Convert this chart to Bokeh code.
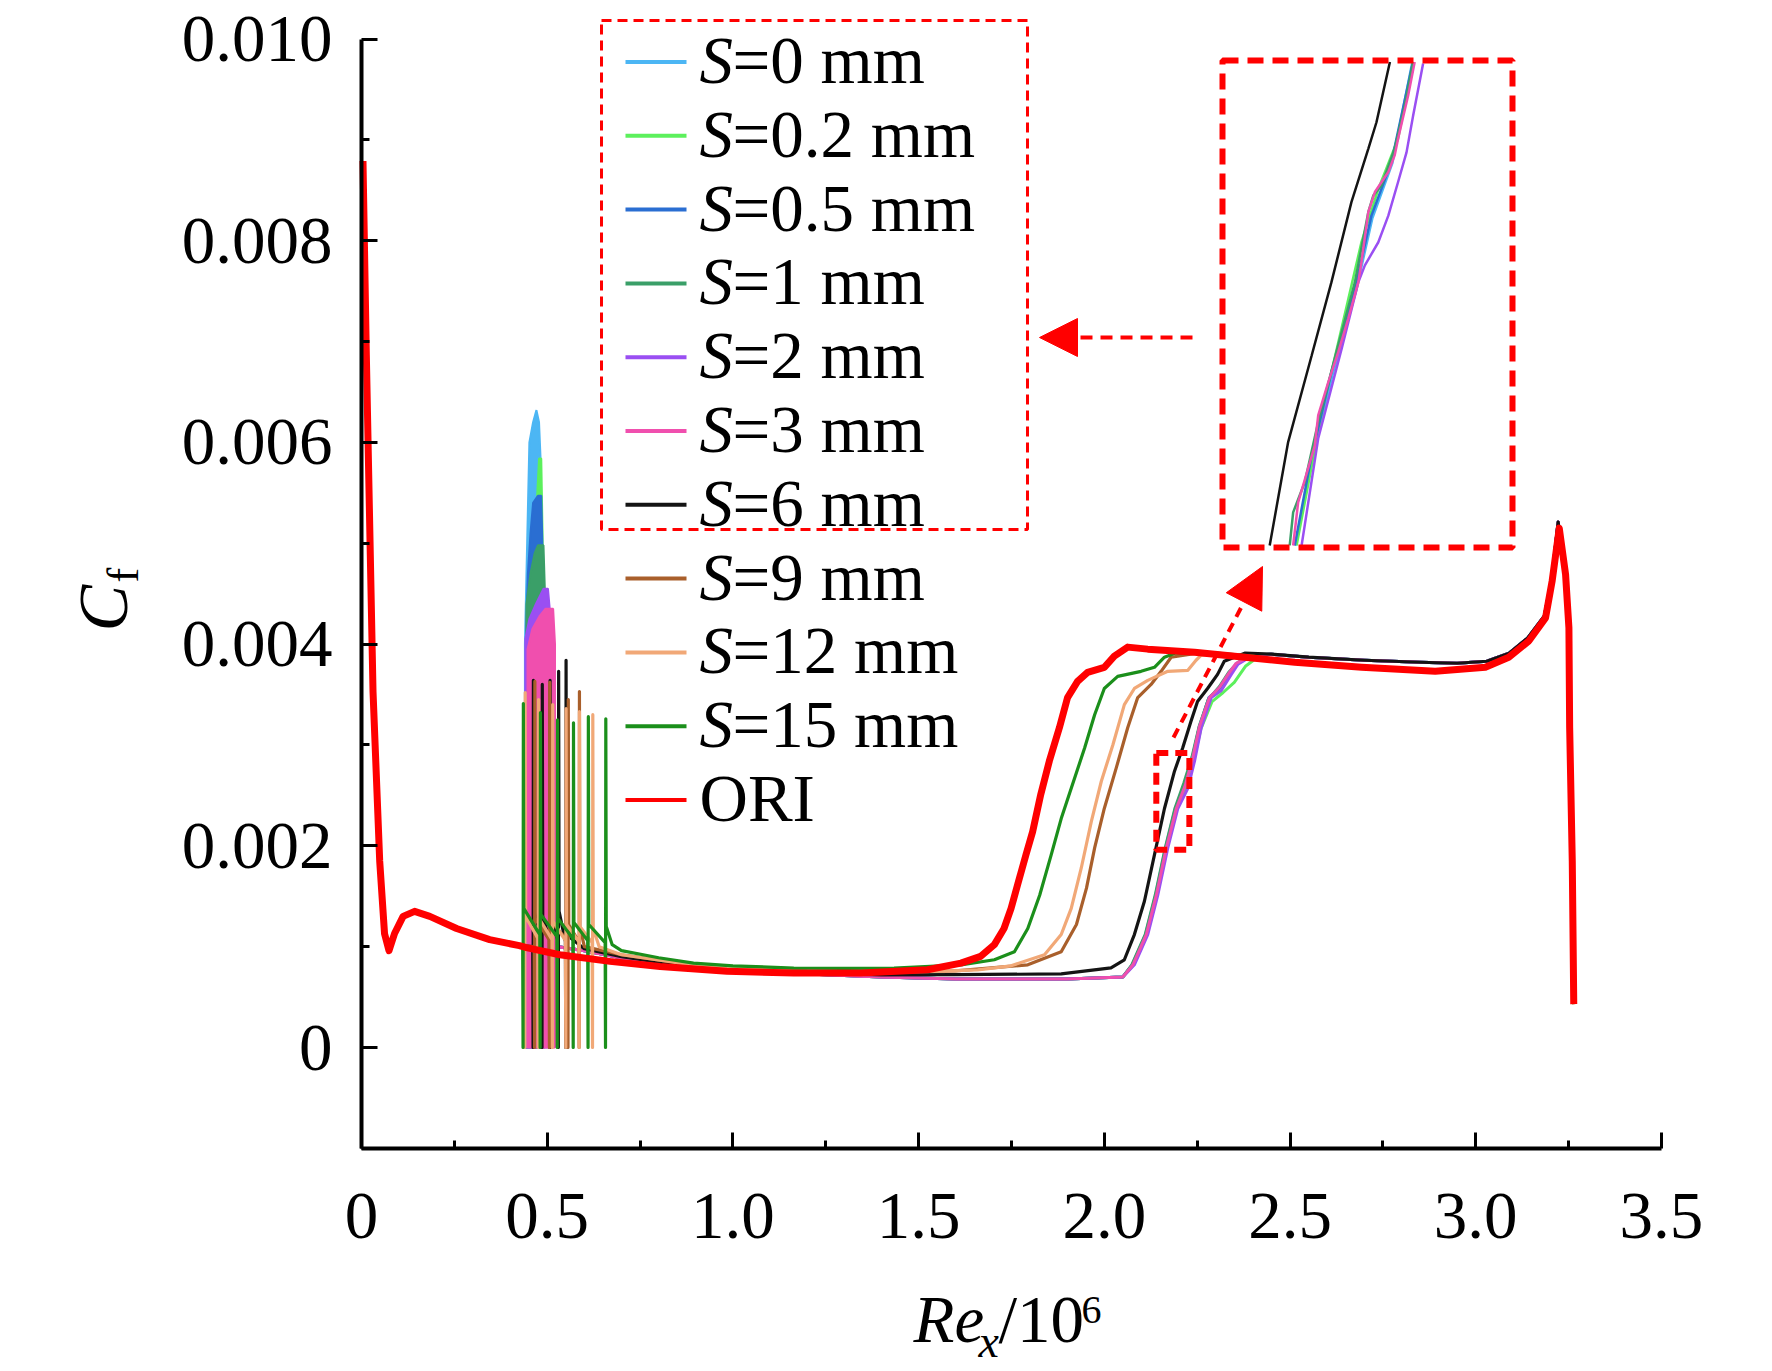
import math
from bokeh.plotting import figure
from bokeh.models import (Range1d, FixedTicker, CustomJSTickFormatter, Label,
                          Arrow, NormalHead)
from bokeh.embed import file_html
from bokeh.resources import INLINE

# ---------------- data ----------------
# upstream part shared by every case (leading-edge peak, dip, laminar decay)
up_x  = [0.004, 0.013, 0.022, 0.031, 0.049, 0.062, 0.074, 0.089, 0.112, 0.143, 0.184, 0.256, 0.345, 0.425]
up_cf = [0.00879, 0.00687, 0.00520, 0.00353, 0.00185, 0.00113, 0.00096, 0.00113, 0.00130, 0.00135, 0.00130, 0.00118, 0.00107, 0.00101]

# ORI (smooth plate)
ori_x = [0.444, 0.534, 0.669, 0.804, 0.984, 1.164, 1.344, 1.524, 1.614, 1.667, 1.704, 1.730, 1.749, 1.767,
         1.789, 1.807, 1.829, 1.852, 1.879, 1.901, 1.928, 1.955, 2.000, 2.027, 2.063, 2.117, 2.243, 2.378,
         2.513, 2.693, 2.891, 3.026, 3.089, 3.143, 3.188, 3.206, 3.225, 3.242, 3.251, 3.253, 3.260, 3.264]
ori_cf = [0.00099, 0.00092, 0.000854, 0.000804, 0.000755, 0.000738, 0.000738, 0.000771, 0.000837, 0.000904,
          0.00102, 0.00118, 0.00138, 0.00162, 0.00191, 0.00214, 0.00251, 0.00284, 0.00317, 0.00347, 0.00363,
          0.00372, 0.00377, 0.00388, 0.00397, 0.00395, 0.00392, 0.00387, 0.00382, 0.00377, 0.00373, 0.00377,
          0.00387, 0.00403, 0.00426, 0.00463, 0.00515, 0.00469, 0.00416, 0.00317, 0.00185, 0.00043]

# turbulent tail of the S <= 6 mm cases (just above ORI) and of S = 9..15 mm (on ORI)
tail_x    = [2.45, 2.55, 2.70, 2.85, 2.95, 3.03, 3.09, 3.14, 3.185, 3.205, 3.222, 3.24, 3.25, 3.253, 3.26, 3.264]
tail_cf   = [0.00390, 0.00387, 0.00384, 0.00382, 0.00381, 0.00383, 0.00391, 0.00406, 0.00428, 0.00466, 0.00521,
             0.00472, 0.00418, 0.00318, 0.00186, 0.00044]
tail_b_cf = [0.00385, 0.00381, 0.00377, 0.00374, 0.00374, 0.00377, 0.00387, 0.00402, 0.00425, 0.00461, 0.00512,
             0.00469, 0.00416, 0.00317, 0.00185, 0.00043]

# S = 15 mm
s15_spk_x   = [0.435, 0.481, 0.527, 0.570, 0.610, 0.657]
s15_spk_top = [0.00341, 0.00332, 0.00325, 0.00322, 0.00328, 0.00326]
s15_spk_hmp = [0.00138, 0.00132, 0.00128, 0.00124, 0.00122, 0.00120]
s15_spk_pre = [0.00102, 0.00112, 0.00110, 0.00108, 0.00106, 0.00104]
s15_x  = [0.675, 0.70, 0.80, 0.894, 1.0, 1.164, 1.30, 1.434, 1.614, 1.704, 1.758, 1.794, 1.826, 1.857, 1.884,
          1.911, 1.947, 1.974, 2.000, 2.036, 2.099, 2.135, 2.162, 2.19, 2.30, 2.40]
s15_cf = [0.00102, 0.00096, 0.00089, 0.000837, 0.00081, 0.000788, 0.000785, 0.000788, 0.00082, 0.00087, 0.00095,
          0.00118, 0.00151, 0.00191, 0.00227, 0.00257, 0.00297, 0.00330, 0.00356, 0.00368, 0.00373, 0.00377,
          0.00387, 0.00391, 0.00391, 0.00388]

# S = 12 mm
s12_spk_x   = [0.440, 0.476, 0.514, 0.550, 0.586, 0.622]
s12_spk_top = [0.00352, 0.00345, 0.00340, 0.00336, 0.00333, 0.00330]
s12_spk_hmp = [0.00130, 0.00128, 0.00125, 0.00122, 0.00120, 0.00118]
s12_spk_pre = [0.00101, 0.00108, 0.00107, 0.00106, 0.00105, 0.00104]
s12_x  = [0.64, 0.70, 0.85, 1.0, 1.2, 1.4, 1.55, 1.659, 1.749, 1.839, 1.884, 1.911, 1.938, 1.965, 1.992, 2.023,
          2.054, 2.081, 2.117, 2.171, 2.225, 2.247, 2.261, 2.32, 2.40]
s12_cf = [0.00100, 0.00092, 0.00084, 0.00079, 0.000755, 0.00075, 0.000755, 0.00077, 0.00081, 0.00092, 0.00112,
          0.00138, 0.00178, 0.00224, 0.00264, 0.00300, 0.00340, 0.00356, 0.00364, 0.00373, 0.00374, 0.00384,
          0.00389, 0.00390, 0.00387]

# S = 9 mm
s9_spk_x   = [0.466, 0.506, 0.556, 0.586]
s9_spk_top = [0.00363, 0.00362, 0.00345, 0.00353]
s9_spk_hmp = [0.00128, 0.00126, 0.00122, 0.00120]
s9_spk_pre = [0.00100, 0.00107, 0.00106, 0.00105]
s9_x  = [0.60, 0.70, 0.85, 1.0, 1.2, 1.4, 1.6, 1.794, 1.884, 1.925, 1.952, 1.974, 2.000, 2.032, 2.063, 2.090,
         2.126, 2.153, 2.180, 2.25, 2.40]
s9_cf = [0.00100, 0.00092, 0.00084, 0.00079, 0.000755, 0.00075, 0.00076, 0.00082, 0.00095, 0.00122, 0.00158,
         0.00198, 0.00237, 0.00277, 0.00317, 0.00347, 0.00360, 0.00373, 0.00387, 0.00391, 0.00387]

# S = 6 mm
s6_spk_x   = [0.462, 0.486, 0.507, 0.530, 0.550]
s6_spk_top = [0.00364, 0.00360, 0.00364, 0.00373, 0.00384]
s6_spk_hmp = [0.00136, 0.00130, 0.00128, 0.00135, 0.00125]
s6_spk_pre = [0.00100, 0.00108, 0.00107, 0.00106, 0.00105]
s6_x  = [0.565, 0.60, 0.70, 0.85, 1.0, 1.2, 1.4, 1.6, 1.884, 2.018, 2.054, 2.081, 2.108, 2.135, 2.162, 2.189,
         2.211, 2.233, 2.251, 2.278, 2.305, 2.323, 2.378]
s6_cf = [0.00108, 0.00098, 0.00090, 0.00082, 0.00077, 0.00074, 0.00072, 0.000722, 0.00073, 0.00079, 0.00087,
         0.00112, 0.00145, 0.00191, 0.00237, 0.00274, 0.00297, 0.00323, 0.00343, 0.00356, 0.00370, 0.00383, 0.00391]

# laminar part after the roughness shared by S <= 3 mm
lam_x  = [0.53, 0.60, 0.70, 0.85, 1.0, 1.2, 1.4, 1.6, 1.9, 2.05]
lam_cf = [0.00100, 0.00096, 0.00089, 0.00082, 0.00077, 0.00073, 0.00070, 0.00068, 0.00068, 0.00070]

# transition parts, S <= 3 mm
s0_x   = [2.075, 2.111, 2.138, 2.165, 2.191, 2.215, 2.236, 2.256, 2.282, 2.310, 2.337, 2.360, 2.400]
s0_cf  = [0.00082, 0.00112, 0.00151, 0.00198, 0.00237, 0.00259, 0.00286, 0.00318, 0.00347, 0.00356, 0.00371, 0.00381, 0.00389]
s02_x  = [2.079, 2.115, 2.142, 2.169, 2.196, 2.222, 2.241, 2.260, 2.290, 2.320, 2.350, 2.380, 2.420]
s02_cf = [0.00082, 0.00112, 0.00151, 0.00198, 0.00237, 0.00258, 0.00285, 0.00316, 0.00343, 0.00352, 0.00362, 0.00378, 0.00389]
s05_x  = [2.076, 2.112, 2.139, 2.166, 2.192, 2.216, 2.237, 2.256, 2.282, 2.310, 2.338, 2.360, 2.400]
s05_cf = [0.00082, 0.00112, 0.00151, 0.00198, 0.00237, 0.00259, 0.00286, 0.00318, 0.00347, 0.00356, 0.00371, 0.00381, 0.00389]
s1_x   = [2.074, 2.110, 2.137, 2.164, 2.190, 2.214, 2.236, 2.255, 2.280, 2.310, 2.335, 2.360, 2.400]
s1_cf  = [0.00082, 0.00112, 0.00151, 0.00198, 0.00237, 0.00262, 0.00288, 0.00318, 0.00345, 0.00358, 0.00372, 0.00382, 0.00389]
s2_x   = [2.081, 2.117, 2.144, 2.171, 2.198, 2.225, 2.243, 2.261, 2.288, 2.315, 2.342, 2.360, 2.400]
s2_cf  = [0.00082, 0.00112, 0.00151, 0.00198, 0.00237, 0.00257, 0.00284, 0.00317, 0.00347, 0.00354, 0.00370, 0.00380, 0.00389]
s3_x   = [2.077, 2.113, 2.140, 2.167, 2.194, 2.218, 2.238, 2.256, 2.283, 2.310, 2.335, 2.355, 2.400]
s3_cf  = [0.00082, 0.00112, 0.00151, 0.00198, 0.00237, 0.00260, 0.00287, 0.00318, 0.00347, 0.00357, 0.00371, 0.00381, 0.00389]

# dense oscillation bands over the roughness elements (envelopes), S <= 3 mm
b0_x   = [0.440, 0.440, 0.446, 0.452, 0.462, 0.471, 0.478, 0.482, 0.486, 0.489, 0.489]
b0_cf  = [0, 0.00400, 0.00500, 0.00600, 0.00620, 0.00632, 0.00620, 0.00585, 0.00500, 0.00440, 0]
b02_x  = [0.472, 0.472, 0.478, 0.484, 0.487, 0.490, 0.490]
b02_cf = [0, 0.00540, 0.00584, 0.00584, 0.00520, 0.00450, 0]
b05_x  = [0.444, 0.444, 0.448, 0.455, 0.462, 0.475, 0.484, 0.487, 0.487]
b05_cf = [0, 0.00420, 0.00470, 0.00510, 0.00540, 0.00547, 0.00547, 0.00500, 0]
b1_x   = [0.444, 0.444, 0.455, 0.466, 0.475, 0.490, 0.494, 0.494]
b1_cf  = [0, 0.00440, 0.00470, 0.00490, 0.00498, 0.00498, 0.00450, 0]
b2_x   = [0.441, 0.441, 0.452, 0.470, 0.490, 0.502, 0.508, 0.508]
b2_cf  = [0, 0.00405, 0.00425, 0.00440, 0.00455, 0.00455, 0.00430, 0]
b3_x   = [0.447, 0.447, 0.460, 0.480, 0.495, 0.516, 0.521, 0.521]
b3_cf  = [0, 0.00395, 0.00415, 0.00428, 0.00435, 0.00435, 0.00400, 0]

# magnified inset: Re_x in [2.13, 2.24], Cf in [0.00197, 0.00294]
inset_box = [2.13, 2.24, 0.00197, 0.00294]
i0_x  = [2.1577, 2.1642, 2.1718, 2.1806, 2.1868, 2.1944, 2.2020]
i0_cf = [0.001974, 0.002150, 0.002315, 0.002480, 0.002625, 0.002735, 0.002937]
i02_x  = [2.1581, 2.1675, 2.1827, 2.1891, 2.1966, 2.2023]
i02_cf = [0.001974, 0.002233, 0.002578, 0.002684, 0.002784, 0.002937]
i05_x  = [2.1574, 2.1638, 2.1713, 2.1802, 2.1865, 2.1941, 2.2017, 2.2023]
i05_cf = [0.001974, 0.002153, 0.002319, 0.002485, 0.002631, 0.002738, 0.002924, 0.002937]
i1_x  = [2.1555, 2.1568, 2.1612, 2.1663, 2.1739, 2.1802, 2.1853, 2.1872, 2.1903, 2.1953, 2.1991, 2.2023]
i1_cf = [0.001974, 0.002040, 0.002100, 0.002220, 0.002373, 0.002498, 0.002638, 0.002671, 0.002691, 0.002764, 0.002850, 0.002937]
i2_x  = [2.1600, 2.1663, 2.1752, 2.1815, 2.1840, 2.1891, 2.1929, 2.1966, 2.1998, 2.2023, 2.2061]
i2_cf = [0.001974, 0.002187, 0.002366, 0.002498, 0.002532, 0.002578, 0.002631, 0.002698, 0.002757, 0.002830, 0.002934]
i3_x  = [2.1568, 2.1587, 2.1650, 2.1663, 2.1701, 2.1739, 2.1777, 2.1815, 2.1827, 2.1853, 2.1878, 2.1929, 2.1953, 2.1966, 2.2004, 2.2029]
i3_cf = [0.001974, 0.002060, 0.002173, 0.002233, 0.002299, 0.002359, 0.002426, 0.002498, 0.002538, 0.002638, 0.002678, 0.002718, 0.002751, 0.002784, 0.002870, 0.002937]
i6_x  = [2.1479, 2.1549, 2.1638, 2.1713, 2.1789, 2.1853, 2.1884, 2.1935]
i6_cf = [0.001974, 0.002180, 0.002352, 0.002498, 0.002658, 0.002764, 0.002817, 0.002937]

small_box = [2.14, 2.229, 0.00196, 0.00292]

legend_labels = ["=0 mm", "=0.2 mm", "=0.5 mm", "=1 mm", "=2 mm", "=3 mm", "=6 mm", "=9 mm", "=12 mm", "=15 mm", "ORI"]
x_ticks = [0, 0.5, 1.0, 1.5, 2.0, 2.5, 3.0, 3.5]
x_minor = [0.25, 0.75, 1.25, 1.75, 2.25, 2.75, 3.25]
y_ticks = [0, 0.002, 0.004, 0.006, 0.008, 0.010]
y_minor = [-0.001, 0.001, 0.003, 0.005, 0.007, 0.009]

# ---------------- styling / layout ----------------
COL = ["#4cb6f4", "#5cf05c", "#2a6ed2", "#3a9f68", "#9a4ff2", "#f04fae", "#141414",
       "#a95f2b", "#f1a877", "#1b8f1b", "#ff0000"]
FONT = "Liberation Serif"
FS = "67px"

W, H = 1770, 1368              # canvas = frame (axes placed with fixed_location)
PX0, PPX = 361.0, 371.4        # px of Re=0, px per unit
PY0, PPY = 1047.0, 100850.0    # px of Cf=0, px per unit


def dx(X):
    return (X - PX0) / PPX


def dy(Y):
    return (PY0 - Y) / PPY


p = figure(frame_width=W, frame_height=H,
           x_range=Range1d(dx(0), dx(W)), y_range=Range1d(dy(H), dy(0)),
           min_border_left=0, min_border_right=0, min_border_top=0, min_border_bottom=0,
           output_backend="svg", toolbar_location=None,
           background_fill_color="white", border_fill_color="white")
p.outline_line_color = None
p.xgrid.grid_line_color = None
p.ygrid.grid_line_color = None

# inset ranges (mapped so that the inset box lands at its place)
IBX0, IBX1, IBY0, IBY1 = 1222.0, 1512.0, 60.0, 547.0
sx = (inset_box[1] - inset_box[0]) / (IBX1 - IBX0)
sy = (inset_box[3] - inset_box[2]) / (IBY1 - IBY0)
ix0 = inset_box[0] - IBX0 * sx
iy0 = inset_box[2] - (H - IBY1) * sy
p.extra_x_ranges = {"ix": Range1d(ix0, ix0 + W * sx)}
p.extra_y_ranges = {"iy": Range1d(iy0, iy0 + H * sy)}

for ax in (p.xaxis[0], p.yaxis[0]):
    ax.axis_line_width = 4
    ax.axis_line_color = "black"
    ax.major_tick_in = 16
    ax.major_tick_out = 0
    ax.minor_tick_in = 8
    ax.minor_tick_out = 0
    ax.major_tick_line_width = 3
    ax.minor_tick_line_width = 3
    ax.major_tick_line_color = "black"
    ax.minor_tick_line_color = "black"
    ax.major_label_text_font = FONT
    ax.major_label_text_font_size = FS
    ax.major_label_text_color = "black"

p.xaxis.fixed_location = -0.001
p.yaxis.fixed_location = 0
p.xaxis.bounds = (0, 3.5)
p.yaxis.bounds = (-0.001, 0.010)
p.xaxis.ticker = FixedTicker(ticks=x_ticks, minor_ticks=x_minor)
p.yaxis.ticker = FixedTicker(ticks=y_ticks, minor_ticks=y_minor)
p.xaxis.formatter = CustomJSTickFormatter(code="return Math.abs(tick) < 1e-9 ? '0' : tick.toFixed(1);")
p.yaxis.formatter = CustomJSTickFormatter(code="return Math.abs(tick) < 1e-12 ? '0' : tick.toFixed(3);")
p.xaxis.major_label_standoff = 46
p.yaxis.major_label_standoff = 29


def spiky(base_x, base_cf, kx, ktop, khmp, kpre, post_x, post_cf, tx, tc):
    xs, ys = list(base_x), list(base_cf)
    for x, t, h, b in zip(kx, ktop, khmp, kpre):
        xs += [x - 0.001, x, x + 0.0008, x + 0.002]
        ys += [b, 0.0, t, h]
    xs += list(post_x) + list(tx)
    ys += list(post_cf) + list(tc)
    return xs, ys


def txt(X, Y, s, size=FS, style="normal", angle=0.0):
    # (X, Y): pixel of the bottom of the text box
    p.add_layout(Label(x=dx(X), y=dy(Y), text=s, text_font=FONT, text_font_style=style,
                       text_font_size=size, text_color="black", text_baseline="bottom",
                       text_align="left", angle=angle))


# small S cases: bands + lines
small = [(b0_x, b0_cf, s0_x, s0_cf), (b02_x, b02_cf, s02_x, s02_cf), (b05_x, b05_cf, s05_x, s05_cf),
         (b1_x, b1_cf, s1_x, s1_cf), (b2_x, b2_cf, s2_x, s2_cf), (b3_x, b3_cf, s3_x, s3_cf)]
for i, (bx, bc, tx, tc) in enumerate(small):
    p.line(up_x + lam_x + tx + tail_x, up_cf + lam_cf + tc + tail_cf,
           line_color=COL[i], line_width=3, line_join="round")
    p.patch(bx, bc, fill_color=COL[i], line_color=COL[i], line_width=2)

spk = [(6, s6_spk_x, s6_spk_top, s6_spk_hmp, s6_spk_pre, s6_x, s6_cf, tail_cf),
       (7, s9_spk_x, s9_spk_top, s9_spk_hmp, s9_spk_pre, s9_x, s9_cf, tail_b_cf),
       (8, s12_spk_x, s12_spk_top, s12_spk_hmp, s12_spk_pre, s12_x, s12_cf, tail_b_cf),
       (9, s15_spk_x, s15_spk_top, s15_spk_hmp, s15_spk_pre, s15_x, s15_cf, tail_b_cf)]
for i, a, b, c, d, e, f, tc in spk:
    xs, ys = spiky(up_x, up_cf, a, b, c, d, e, f, tail_x, tc)
    p.line(xs, ys, line_color=COL[i], line_width=3.2, line_join="round")

p.line(up_x + ori_x, up_cf + ori_cf, line_color=COL[10], line_width=7, line_join="round")

# small dashed box on the curves
p.quad(left=small_box[0], right=small_box[1], bottom=small_box[2], top=small_box[3],
       fill_alpha=0, line_color="#ff0000", line_width=6, line_dash="12 7")

# inset
for xs, ys, c in [(i0_x, i0_cf, COL[0]), (i02_x, i02_cf, COL[1]), (i05_x, i05_cf, COL[2]),
                  (i1_x, i1_cf, COL[3]), (i2_x, i2_cf, COL[4]), (i3_x, i3_cf, COL[5]),
                  (i6_x, i6_cf, COL[6])]:
    p.line(xs, ys, line_color=c, line_width=2.5, x_range_name="ix", y_range_name="iy")
p.quad(left=inset_box[0], right=inset_box[1], bottom=inset_box[2], top=inset_box[3],
       fill_alpha=0, line_color="#ff0000", line_width=6, line_dash="16 9",
       x_range_name="ix", y_range_name="iy")

# arrows
p.add_layout(Arrow(end=NormalHead(size=40, fill_color="#ff0000", line_color="#ff0000", line_width=1),
                   x_start=dx(1173), y_start=dy(737), x_end=dx(1262), y_end=dy(566),
                   line_color="#ff0000", line_width=4, line_dash="10 7"))
p.add_layout(Arrow(end=NormalHead(size=38, fill_color="#ff0000", line_color="#ff0000", line_width=1),
                   x_start=dx(1192), y_start=dy(337), x_end=dx(1039), y_end=dy(337),
                   line_color="#ff0000", line_width=4, line_dash="12 8"))

# legend (manual, to allow the italic S)
p.quad(left=dx(601), right=dx(1027), bottom=dy(529), top=dy(20),
       fill_alpha=0, line_color="#ff0000", line_width=3, line_dash="10 6")
for i, lab in enumerate(legend_labels):
    Y = 61.5 + 73.8 * i
    p.line([dx(625), dx(686)], [dy(Y), dy(Y)], line_color=COL[i], line_width=4)
    if lab == "ORI":
        txt(699, Y + 35, "ORI")
    else:
        txt(699, Y + 35, "S", style="italic")
        txt(732, Y + 35, lab)

# axis titles
txt(141, 631, "C", size="70px", style="italic", angle=math.pi / 2)
txt(147, 582, "f", size="44px", angle=math.pi / 2)
txt(913, 1355, "Re", style="italic")
txt(978, 1366, "x", size="46px", style="italic")
txt(998, 1355, "/10")
txt(1081, 1322, "6", size="40px")

open("out.html", "w").write(file_html(p, INLINE))
